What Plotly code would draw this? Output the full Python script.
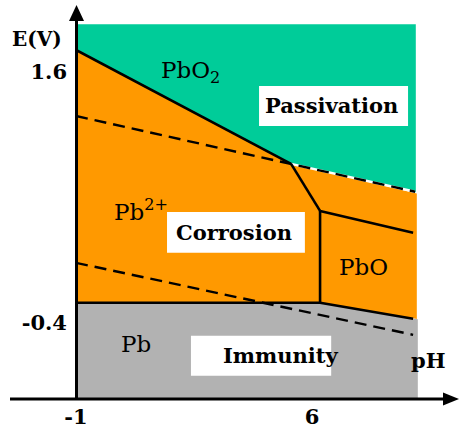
import plotly.graph_objects as go

# ---------------- data (pH, E in V) ----------------
x_ticks = [-1, 6]
x_tick_text = ["-1", "6"]
y_ticks = [1.6, -0.4]
y_tick_text = ["1.6", "-0.4"]

# region polygons
green_ph = [-1.0, 9.08, 9.08, 5.38, -1.0]
green_e = [1.98, 1.98, 0.64, 0.867, 1.775]

orange_ph = [-1.0, 5.38, 9.11, 9.11, 6.24, -1.0]
orange_e = [1.775, 0.867, 0.63, -0.37, -0.241, -0.241]

gray_ph = [-1.0, 9.14, 9.14, 6.24, -1.0]
gray_e = [-1.0, -1.0, -0.372, -0.241, -0.241]

# solid boundaries
b_pbo2_pb2_ph = [-1.0, 5.38]
b_pbo2_pb2_e = [1.775, 0.867]
b_tri_ph = [5.38, 6.24]
b_tri_e = [0.867, 0.492]
b_pbo2_pbo_ph = [6.24, 9.0]
b_pbo2_pbo_e = [0.492, 0.317]
b_pb2_pbo_ph = [6.24, 6.24]
b_pb2_pbo_e = [0.492, -0.241]
b_pb_pb2_ph = [-1.0, 6.24]
b_pb_pb2_e = [-0.241, -0.241]
b_pb_pbo_ph = [6.24, 9.0]
b_pb_pbo_e = [-0.241, -0.368]

# water stability lines (dashed)
o2_ph = [-1.0, 9.06]
o2_e = [1.249, 0.645]
o2_white_ph = [5.38, 9.06]
o2_white_e = [0.867, 0.645]
h2_ph = [-1.0, 9.0]
h2_e = [0.078, -0.496]

# labels
species = ["PbO<sub>2</sub>", "Pb<sup>2+</sup>", "PbO", "Pb"]
species_ph = [2.40, 0.92, 7.54, 0.78]
species_e = [1.60, 0.50, 0.046, -0.567]

zones = ["Passivation", "Corrosion", "Immunity"]
zones_ph = [6.58, 3.70, 5.06]
zones_e = [1.33, 0.322, -0.66]
# white boxes behind zone labels: (ph0, ph1, e0, e1)
zone_boxes = [(4.43, 8.85, 1.170, 1.488),
              (1.70, 5.79, 0.158, 0.484),
              (2.41, 6.57, -0.822, -0.504)]

GREEN = "#00CC99"
ORANGE = "#FF9900"
GRAY = "#B2B2B2"
FONT = "DejaVu Serif"

fig = go.Figure()

for xs, ys, col in [(green_ph, green_e, GREEN), (orange_ph, orange_e, ORANGE), (gray_ph, gray_e, GRAY)]:
    fig.add_trace(go.Scatter(x=xs, y=ys, fill="toself", fillcolor=col, mode="lines",
                             line=dict(width=0, color=col), hoverinfo="skip"))

# white under-line for the O2 line on the green boundary
fig.add_trace(go.Scatter(x=o2_white_ph, y=o2_white_e, mode="lines",
                         line=dict(color="white", width=2.5), hoverinfo="skip"))

for xs, ys in [(b_pbo2_pb2_ph, b_pbo2_pb2_e), (b_tri_ph, b_tri_e), (b_pbo2_pbo_ph, b_pbo2_pbo_e),
               (b_pb2_pbo_ph, b_pb2_pbo_e), (b_pb_pb2_ph, b_pb_pb2_e), (b_pb_pbo_ph, b_pb_pbo_e)]:
    fig.add_trace(go.Scatter(x=xs, y=ys, mode="lines", line=dict(color="black", width=2.6),
                             hoverinfo="skip"))

for xs, ys in [(o2_ph, o2_e), (h2_ph, h2_e)]:
    fig.add_trace(go.Scatter(x=xs, y=ys, mode="lines",
                             line=dict(color="black", width=2.4, dash="12px,7px"),
                             hoverinfo="skip"))

shapes = []
for (x0, x1, y0, y1) in zone_boxes:
    shapes.append(dict(type="rect", xref="x", yref="y", x0=x0, x1=x1, y0=y0, y1=y1,
                       fillcolor="white", line=dict(width=0), layer="above"))

# axis lines & arrows (paper coords; plot area 382x390 px)
W, H = 382.0, 390.0
def px(p):
    return (p - 76) / W
def py(q):
    return (398 - q) / H

shapes.append(dict(type="line", xref="paper", yref="paper", x0=px(10), x1=px(447),
                   y0=py(399), y1=py(399), line=dict(color="black", width=3)))
shapes.append(dict(type="line", xref="paper", yref="paper", x0=px(76.5), x1=px(76.5),
                   y0=py(400), y1=py(18), line=dict(color="black", width=3)))
shapes.append(dict(type="path", xref="paper", yref="paper",
                   path=f"M {px(76.5)},{py(5)} L {px(69)},{py(21)} L {px(84)},{py(21)} Z",
                   fillcolor="black", line=dict(width=0)))
shapes.append(dict(type="path", xref="paper", yref="paper",
                   path=f"M {px(459)},{py(399)} L {px(443)},{py(392.5)} L {px(443)},{py(405.5)} Z",
                   fillcolor="black", line=dict(width=0)))

annotations = []
for t, x, y in zip(species, species_ph, species_e):
    annotations.append(dict(text=t, x=x, y=y, xref="x", yref="y", showarrow=False,
                            font=dict(family=FONT, size=23, color="black")))
for t, x, y in zip(zones, zones_ph, zones_e):
    annotations.append(dict(text=f"<b>{t}</b>", x=x, y=y, xref="x", yref="y", showarrow=False,
                            font=dict(family=FONT, size=21, color="black")))
annotations.append(dict(text="<b>E(V)</b>", x=px(64), y=py(25), xref="paper", yref="paper",
                        xanchor="right", showarrow=False,
                        font=dict(family=FONT, size=20, color="black")))
annotations.append(dict(text="<b>pH</b>", x=px(448), y=py(375), xref="paper", yref="paper",
                        showarrow=False, font=dict(family=FONT, size=21, color="black")))

fig.update_layout(
    width=468, height=430,
    margin=dict(l=76, r=10, t=8, b=32, autoexpand=False),
    paper_bgcolor="white", plot_bgcolor="white",
    showlegend=False, hovermode=False,
    shapes=shapes, annotations=annotations,
    font=dict(family=FONT),
    xaxis=dict(range=[-1.0, 10.332], showgrid=False, zeroline=False, showline=False,
               tickvals=x_ticks, ticktext=x_tick_text, ticks="", automargin=False,
               ticklabelstandoff=4,
               tickfont=dict(family=FONT, size=21, color="black", weight="bold"),
               fixedrange=True),
    yaxis=dict(range=[-1.0, 2.110], showgrid=False, zeroline=False, showline=False,
               tickvals=y_ticks, ticktext=y_tick_text, ticks="", automargin=False,
               ticklabelstandoff=8,
               tickfont=dict(family=FONT, size=21, color="black", weight="bold"),
               fixedrange=True),
)

fig.write_html("out.html", config={"displayModeBar": False},
               post_script="document.body.style.margin='0';document.body.style.padding='0';")
